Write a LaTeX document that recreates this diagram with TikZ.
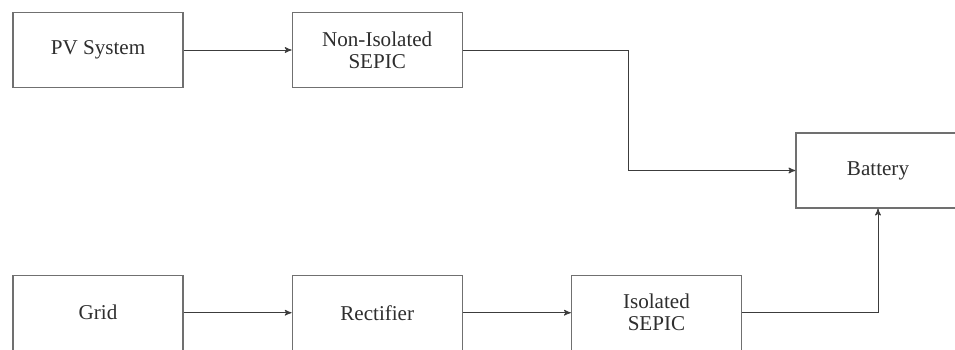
\documentclass[tikz,border=0pt]{standalone}
\usepackage{fontspec}
\setmainfont{Liberation Serif}
\usepackage{xcolor}
\definecolor{BoxGrey}{HTML}{707070}
\definecolor{WireGrey}{HTML}{3C3C3C}
\definecolor{InkGrey}{HTML}{2E2E2E}
\usepackage{tikz}
\usetikzlibrary{arrows, positioning}
\tikzstyle{block} = [rectangle, draw=BoxGrey, fill=white, text=InkGrey, minimum width=3.4cm, minimum height=1.5cm, text centered, line width=0.7pt, align=center, font=\fontsize{12}{12.5}\selectfont]
\tikzstyle{arrow} = [->, >=stealth', color=WireGrey, line width=0.5pt]
\tikzstyle{line} = [-, color=WireGrey, line width=0.5pt]

\begin{document}
\begin{tikzpicture}[node distance=2.16cm]
        \clip (0,0) rectangle (19.1,-6.98);
        % Top row
        \node [block] (pv) at (1.96,-1.0) {PV System};
        \node [block, right=of pv] (nonisol) {Non-Isolated\\SEPIC};

        % Bottom row
        \node [block, below=3.73cm of pv] (grid) {Grid};
        \node [block, right=of grid] (rect) {Rectifier};
        \node [block, right=of rect] (isol) {Isolated\\SEPIC};

        % Storage
        \node [block, minimum width=3.28cm] (batt) at (17.56,-3.41) {Battery};

        % Connections
        \draw [arrow] (pv) -- (nonisol);
        \draw [arrow] (grid) -- (rect);
        \draw [arrow] (rect) -- (isol);
        \coordinate (bend) at (12.56,-1.0);
        \draw [arrow] (nonisol.east) -- (bend) |- (batt.west);
        \draw [arrow] (isol.east) -| (batt.south);
    \end{tikzpicture}
\end{document}
